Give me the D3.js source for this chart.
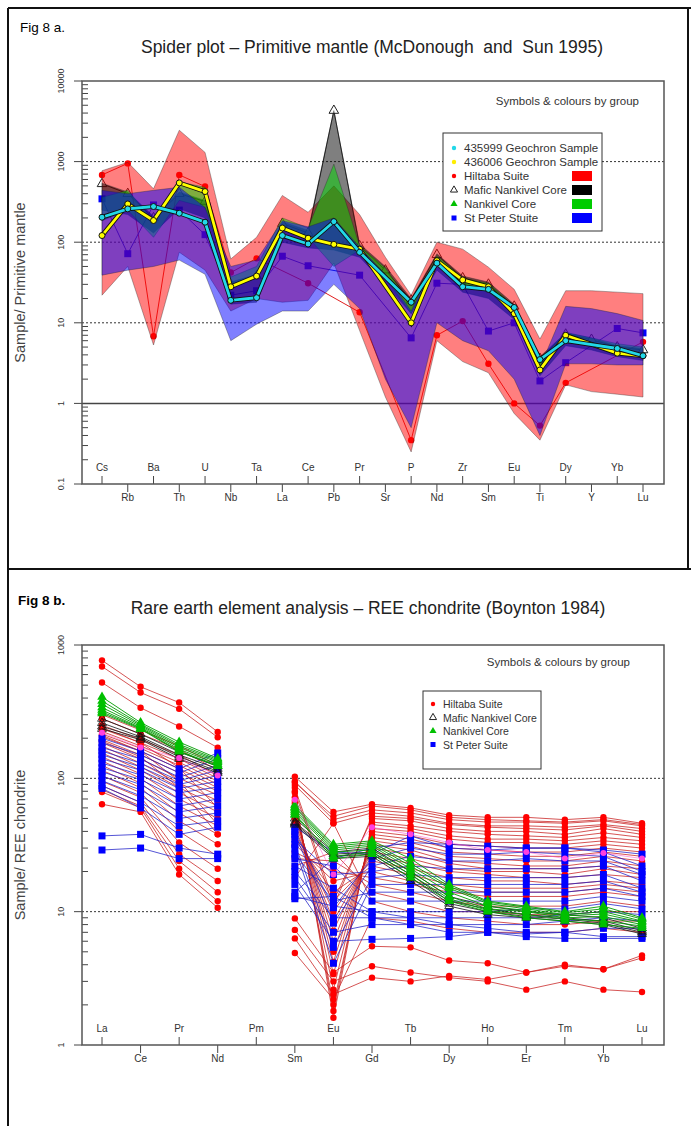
<!DOCTYPE html>
<html lang="en">
<head>
<meta charset="UTF-8">
<title>Fig 8 - spider plots</title>
<script src="https://d3js.org/d3.v7.min.js"></script>
<style>
  body { margin: 0; background: #fff; }
  svg text { font-family: "Liberation Sans", Arial, sans-serif; white-space: pre; }
</style>
</head>
<body>
<svg id="fig" width="691" height="1126"></svg>
<script>
// ---------- Fig 8a : primitive mantle spider plot ----------
const topElements = ["Cs","Rb","Ba","Th","U","Nb","Ta","La","Ce","Pb","Pr","Sr","P","Nd","Zr","Sm","Eu","Ti","Dy","Y","Yb","Lu"];

// group envelopes (min / max)
const hiltabaMax = [770, 980, 460, 2450, 1300, 62, 115, 380, 235, 500, 220, 65, 22, 100, 82, 49, 26, 6.3, 25, 25, 24, 23];
const hiltabaMin = [22, 50, 5.3, 75, 45, 14, 20, 18, 19, 55, 8, 1.2, 0.25, 6, 3.3, 2.4, 0.75, 0.35, 1.7, 1.4, 1.3, 1.2];
const maficMax = [540, 420, 210, 420, 330, 32, 40, 180, 140, 4300, 95, 50, 20, 72, 38, 32, 17, 3.8, 7.5, 6.5, 5.2, 4.8];
const maficMin = [250, 220, 130, 260, 200, 17, 18, 100, 85, 80, 65, 30, 13, 45, 24, 20, 11, 2.2, 5.2, 4.6, 3.8, 3.4];
const nankivelMax = [360, 440, 185, 560, 480, 37, 50, 200, 150, 930, 90, 48, 17, 68, 36, 31, 16, 3.5, 7.6, 6.5, 5.5, 5];
const nankivelMin = [185, 250, 115, 330, 270, 28, 37, 140, 115, 50, 80, 36, 13, 56, 28, 24, 13, 2.6, 6.5, 5.5, 4.3, 3.8];
const stPeterMax = [440, 400, 440, 480, 270, 50, 60, 185, 155, 200, 87, 40, 14, 65, 28, 28, 14, 2.8, 16, 15, 13, 10.7];
const stPeterMin = [39, 45, 50, 60, 40, 6, 9.6, 14, 14, 30, 15, 2, 0.5, 10, 6, 4.5, 2, 0.4, 3.1, 3.1, 3.0, 3.0];

// single samples
const hiltabaSample = [684, 950, 6.8, 684, 490, 42, 63, null, 31, null, 13.5, null, 0.35, 7, 10.5, 3.1, 1.0, 0.53, 1.8, null, null, 5.8];
const stPeterSample = [345, 72, 290, 250, 124, 22, 25, 67, 51, null, 39, null, 6.5, 31, 30, 7.9, 10, 1.9, 3.2, null, 8.5, 7.5];
const maficSample = [530, 400, 200, 400, 320, 30, 38, 170, 130, 4300, 90, 45, 19, 70, 36, 30, 16, 3.6, 7.2, 6.2, 5, 4.6];
const geo435999 = [204, 259, 277, 229, 177, 19, 20.5, 121, 95, 180, 75, null, 18, 55, 28, 26, 15.5, 3.5, 6, null, 4.8, 3.9];
const geo436006 = [121, 298, 186, 544, 425, 28, 38, 150, 112, 94, 82, null, 10, 59, 34, 28, 13, 2.6, 7, null, 4.2, 3.9];

// ---------- Fig 8b : REE chondrite ----------
const reeElements = ["La","Ce","Pr","Nd","Pm","Sm","Eu","Gd","Tb","Dy","Ho","Er","Tm","Yb","Lu"];

const hiltabaREE = [
  [767, 486, 370, 223, null, 103, 56, 64, 60, 53, 51, 51, 49, 51, 46],
  [690, 440, 332, 203, null, 95, 49, 58, 55, 49, 47, 47, 46, 48, 44],
  [523, 338, 245, 170, null, 89, 46, 55, 52, 46, 44, 44, 43, 45, 42],
  [300, 230, 175, 125, null, 85, 12, 50, 48, 42, 40, 40, 38, 42, 38],
  [280, 215, 165, 115, null, 78, 1.6, 47, 44, 40, 38, 37, 36, 39, 36],
  [250, 195, 150, 105, null, 72, 1.8, 45, 42, 37, 35, 35, 34, 36, 34],
  [235, 185, 140, 100, null, 68, 2.0, 42, 40, 35, 33, 33, 32, 34, 32],
  [225, 175, 132, 95, null, 65, 2.6, 40, 37, 32, 31, 30, 30, 32, 30],
  [215, 168, 125, 90, null, 62, 3.4, 38, 35, 30, 29, 28, 28, 30, 28],
  [205, 160, 118, 85, null, 60, 4.2, 36, 33, 28, 27, 26, 26, 28, 26],
  [195, 150, 110, 80, null, 57, 5.0, 34, 31, 26, 25, 24, 24, 26, 24],
  [185, 140, 100, 75, null, 54, 6.0, 32, 29, 24, 23, 22, 22, 24, 22],
  [175, 130, 92, 68, null, 50, 7.2, 30, 27, 23, 21, 21, 21, 22, 21],
  [165, 122, 85, 62, null, 46, 8.5, 28, 25, 21, 20, 20, 19, 21, 19],
  [155, 115, 78, 56, null, 42, 10, 26, 23, 20, 19, 18, 18, 19, 18],
  [145, 108, 70, 50, null, 38, 12, 24, 21, 18, 17, 17, 16, 17, 16],
  [135, 100, 62, 44, null, 35, 14, 22, 19, 16, 15, 15, 15, 16, 15],
  [125, 92, 55, 38, null, 32, 17, 20, 17, 15, 14, 14, 14, 15, 14],
  [115, 85, 48, 32, null, 28, 20, 18, 16, 14, 13, 13, 13, 14, 13],
  [105, 78, 40, 26, null, 25, 24, 16, 14, 12, 11, 11, 11, 12, 11],
  [95, 72, 33, 21, null, 22, 28, 14, 12, 10, 10, 9.5, 9.5, 10, 10],
  [88, 66, 27, 17, null, 18, 46, 12, 10, 9, 8.5, 8, 8, 8.5, 8.5],
  [82, 62, 24, 14, null, 8.9, 3.5, 5.5, 5.4, 4.3, 4.1, 3.5, 4.0, 3.7, 4.7],
  [79, 60, 21, 12, null, 7.3, 3.0, 3.9, 3.5, 3.2, 3.0, 2.6, 3.0, 2.6, 2.5],
  [64, 56, 19, 10.7, null, 6.3, 2.4, 3.2, 3.0, 3.3, 3.1, 3.5, 3.9, 3.7, 4.5],
  [240, 185, 120, 60, null, 4.9, 2.2, 9, 8.5, 7.5, 7, 7, 7, 7.5, 7],
  [210, 160, 95, 45, null, 93, 52, 62, 58, 51, 49, 48, 47, 49, 45],
  [190, 145, 85, 38, null, 80, 11, 52, 50, 45, 43, 42, 41, 44, 40]
];
const stPeterREE = [
  [200, 160, 118, 155, null, 43, 28, 27, 37, 30, 29, 30, 30, 28, 22],
  [185, 150, 110, 140, null, 40, 10.7, 25, 30, 27, 27, 28, 27, 26, 20],
  [170, 140, 102, 125, null, 38, 8.2, 22, 26, 24, 24, 25, 24, 24, 19],
  [160, 130, 96, 115, null, 35, 19, 20, 22, 21, 21, 21, 21, 22, 17],
  [150, 122, 90, 105, null, 32, 5.4, 18, 19, 18, 18, 18, 18, 19, 15],
  [140, 115, 84, 95, null, 30, 4.1, 16, 16, 16, 16, 16, 16, 17, 14],
  [130, 106, 78, 86, null, 27, 12, 14, 14, 14, 14, 14, 14, 15, 13],
  [120, 98, 70, 78, null, 25, 22, 12, 12, 12, 12, 12, 12, 13, 12],
  [112, 90, 62, 70, null, 22, 15, 10, 10, 10, 10, 10.5, 10.5, 11.5, 10.5],
  [104, 82, 56, 62, null, 20, 9, 9, 9, 9, 9, 9, 9.5, 10, 9.5],
  [96, 74, 50, 55, null, 18, 7, 8, 8, 8, 8, 8, 8.5, 9, 8.5],
  [88, 66, 44, 48, null, 16, 6, 6.2, 6.3, 6.5, 7, 6.8, 7, 7.5, 7.5],
  [84, 60, 38, 43, null, 14, 25, 30, 33, 32, 31, 30, 30, 29, 27],
  [37, 38, 30, 27, null, 13, 11, 10, 9, 8, 7.5, 7, 7, 6.5, 6.5],
  [29, 30, 25, 25, null, 12.5, 13, 9, 8, 7, 7, 6.5, 6.3, 6.3, 6.3]
];
const maficREE = [
  [280, 215, 158, 123, null, 50, 28, 30, 20, 13, 11, 10, 9.5, 9, 7.5],
  [260, 205, 150, 118, null, 47, 27, 28, 19, 12, 10.5, 9.5, 9, 8.5, 7.2],
  [245, 200, 145, 113, null, 46, 26, 27, 18, 11.5, 10, 9.2, 8.8, 8.2, 7],
  [235, 195, 140, 110, null, 45, 25, 26, 17, 11, 9.5, 9, 8.5, 8, 6.8]
];
const nankivelREE = [
  [407, 262, 187, 141, null, 63, 32, 34, 25, 16, 12, 11, 10, 11, 9],
  [380, 255, 180, 138, null, 61, 31, 33, 23, 15.5, 11.8, 10.8, 9.8, 10.5, 8.8],
  [360, 250, 175, 135, null, 60, 30, 32, 22, 15, 11.5, 10.5, 9.5, 10, 8.5],
  [340, 245, 170, 132, null, 58, 29, 31, 21, 14, 11, 10.2, 9.3, 9.6, 8.3],
  [325, 240, 165, 128, null, 56, 28, 29, 20, 13, 10.5, 10, 9, 9.2, 8],
  [315, 237, 160, 125, null, 54, 26, 28, 19, 12.5, 10.2, 9.5, 8.8, 8.5, 7.8],
  [307, 234, 158, 123, null, 53, 25, 27, 18, 12, 10, 9, 8.5, 8, 7.5]
];
const geochronREE = [220, 170, 142, 105, null, 69, 19, 43, 38, 33, 29, 28, 25, 27.5, 25];

const svg = d3.select("#fig");

// outer frame lines
svg.append("line").attr("x1", 8).attr("y1", 8).attr("x2", 8).attr("y2", 1126).attr("stroke", "#111").attr("stroke-width", 2);
svg.append("line").attr("x1", 8).attr("y1", 8).attr("x2", 691).attr("y2", 8).attr("stroke", "#111").attr("stroke-width", 2);
svg.append("line").attr("x1", 688).attr("y1", 8).attr("x2", 688).attr("y2", 569).attr("stroke", "#111").attr("stroke-width", 2);
svg.append("line").attr("x1", 8).attr("y1", 569).attr("x2", 691).attr("y2", 569).attr("stroke", "#111").attr("stroke-width", 2);

// shared axis drawing
function drawFrame(box, x, y, elements, gridVals, solidVals) {
  const g = svg.append("g");
  const [lo, hi] = y.domain();
  const d0 = Math.round(Math.log10(lo)), d1 = Math.round(Math.log10(hi));

  gridVals.forEach(v => {
    g.append("line").attr("x1", box.left).attr("x2", box.right)
      .attr("y1", y(v)).attr("y2", y(v))
      .attr("stroke", "#333").attr("stroke-width", 1).attr("stroke-dasharray", "2,2");
  });
  solidVals.forEach(v => {
    g.append("line").attr("x1", box.left).attr("x2", box.right)
      .attr("y1", y(v)).attr("y2", y(v))
      .attr("stroke", "#444").attr("stroke-width", 1.5);
  });

  // log ticks: majors outward, minors inward
  for (let d = d0; d <= d1; d++) {
    const v = Math.pow(10, d);
    g.append("line").attr("x1", box.left - 8).attr("x2", box.left)
      .attr("y1", y(v)).attr("y2", y(v)).attr("stroke", "#444");
    g.append("text")
      .attr("transform", `translate(${box.left - 18},${y(v)}) rotate(-90)`)
      .attr("text-anchor", "middle").attr("font-size", 9).attr("fill", "#333")
      .text(v < 1 ? "0.1" : String(v));
    if (d < d1) {
      for (let k = 2; k <= 9; k++) {
        const m = k * v;
        g.append("line").attr("x1", box.left).attr("x2", box.left + 6)
          .attr("y1", y(m)).attr("y2", y(m)).attr("stroke", "#444");
      }
    }
  }

  // element axis, labels alternate above / below
  elements.forEach((el, i) => {
    const px = x(el);
    const above = i % 2 === 0;
    g.append("line").attr("x1", px).attr("x2", px)
      .attr("y1", above ? box.bottom - 8 : box.bottom)
      .attr("y2", above ? box.bottom : box.bottom + 8)
      .attr("stroke", "#444");
    g.append("text").attr("x", px)
      .attr("y", above ? box.bottom - 13 : box.bottom + 17)
      .attr("text-anchor", "middle").attr("font-size", 10).attr("fill", "#333")
      .text(el);
  });
  return g;
}

function drawBox(box) {
  svg.append("rect").attr("x", box.left).attr("y", box.top)
    .attr("width", box.right - box.left).attr("height", box.bottom - box.top)
    .attr("fill", "none").attr("stroke", "#555").attr("stroke-width", 1.5);
}

// ============ TOP CHART ============
const boxA = {left: 82, right: 664, top: 81, bottom: 484};
const xA = d3.scalePoint().domain(topElements).range([102, 643]);
const yA = d3.scaleLog().domain([0.1, 10000]).range([boxA.bottom, boxA.top]);

svg.append("text").attr("x", 20).attr("y", 32).attr("font-size", 13.5).text("Fig 8 a.");
svg.append("text").attr("x", 372).attr("y", 53).attr("text-anchor", "middle")
  .attr("font-size", 17.5).attr("fill", "#222")
  .text("Spider plot \u2013 Primitive mantle (McDonough  and  Sun 1995)");
svg.append("text").attr("transform", `translate(25,${(boxA.top + boxA.bottom) / 2}) rotate(-90)`)
  .attr("text-anchor", "middle").attr("font-size", 14.5).attr("fill", "#444")
  .text("Sample/ Primitive mantle");

drawFrame(boxA, xA, yA, topElements, [10, 100, 1000], [1]);

const linePts = (vals, x, y, els) => els.map((e, i) => [x(e), vals[i] == null ? null : y(vals[i])]).filter(p => p[1] != null);
const lineGen = d3.line();

// individual samples under the envelopes
function sampleA(vals, stroke, drawMarker) {
  const pts = linePts(vals, xA, yA, topElements);
  svg.append("path").attr("d", lineGen(pts)).attr("fill", "none")
    .attr("stroke", stroke).attr("stroke-width", 1);
  pts.forEach(p => drawMarker(p));
}
sampleA(hiltabaSample, "#e02020", p =>
  svg.append("circle").attr("cx", p[0]).attr("cy", p[1]).attr("r", 3.2).attr("fill", "#ff0000"));
sampleA(stPeterSample, "#2020d0", p =>
  svg.append("rect").attr("x", p[0] - 3.5).attr("y", p[1] - 3.5).attr("width", 7).attr("height", 7).attr("fill", "#0000ff"));
sampleA(maficSample, "#333", p =>
  svg.append("path").attr("d", d3.symbol(d3.symbolTriangle, 40)()).attr("transform", `translate(${p[0]},${p[1]})`)
    .attr("fill", "#fff").attr("stroke", "#222"));

// envelopes
const envelopes = [
  {min: hiltabaMin, max: hiltabaMax, fill: "rgba(255,0,0,0.5)"},
  {min: maficMin, max: maficMax, fill: "rgba(0,0,0,0.5)"},
  {min: nankivelMin, max: nankivelMax, fill: "rgba(0,220,0,0.5)"},
  {min: stPeterMin, max: stPeterMax, fill: "rgba(0,0,255,0.5)"}
];
const area = d3.area().x(d => xA(d.el)).y0(d => yA(d.lo)).y1(d => yA(d.hi));
envelopes.forEach(env => {
  const rows = topElements.map((el, i) => ({el, lo: env.min[i], hi: env.max[i]}));
  svg.append("path").attr("d", area(rows)).attr("fill", env.fill)
    .attr("stroke", "rgba(40,40,40,0.45)").attr("stroke-width", 0.8);
});

// geochron samples on top
[[geo436006, "#ffff00"], [geo435999, "#22d8e8"]].forEach(([vals, col]) => {
  const pts = linePts(vals, xA, yA, topElements);
  svg.append("path").attr("d", lineGen(pts)).attr("fill", "none").attr("stroke", "#111").attr("stroke-width", 4.5);
  svg.append("path").attr("d", lineGen(pts)).attr("fill", "none").attr("stroke", col).attr("stroke-width", 2.8);
  pts.forEach(p => svg.append("circle").attr("cx", p[0]).attr("cy", p[1]).attr("r", 3)
    .attr("fill", col).attr("stroke", "#111").attr("stroke-width", 1));
});

drawBox(boxA);

svg.append("text").attr("x", 639).attr("y", 105).attr("text-anchor", "end")
  .attr("font-size", 11.5).attr("fill", "#333").text("Symbols & colours by group");

// legend A
const legA = svg.append("g");
legA.append("rect").attr("x", 443).attr("y", 133).attr("width", 159).attr("height", 98)
  .attr("fill", "#fff").attr("stroke", "#333").attr("stroke-width", 1);
const legAItems = [
  {label: "435999 Geochron Sample", sym: "dot", col: "#22d8e8"},
  {label: "436006 Geochron Sample", sym: "dot", col: "#ffee00"},
  {label: "Hiltaba Suite", sym: "dot", col: "#ff0000", sw: "#ff0000"},
  {label: "Mafic Nankivel Core", sym: "open", col: "#222", sw: "#000"},
  {label: "Nankivel Core", sym: "tri", col: "#00c000", sw: "#00cc00"},
  {label: "St Peter Stuite", sym: "sq", col: "#0000ff", sw: "#0000ff"}
];
function legendSymbol(g, sym, col, x, y, s) {
  if (sym === "dot") g.append("circle").attr("cx", x).attr("cy", y).attr("r", 2.2 * s).attr("fill", col);
  if (sym === "sq") g.append("rect").attr("x", x - 2.5 * s).attr("y", y - 2.5 * s).attr("width", 5 * s).attr("height", 5 * s).attr("fill", col);
  if (sym === "tri" || sym === "open") g.append("path").attr("d", d3.symbol(d3.symbolTriangle, 22 * s * s)())
    .attr("transform", `translate(${x},${y})`)
    .attr("fill", sym === "tri" ? col : "none").attr("stroke", sym === "tri" ? "none" : col).attr("stroke-width", 1);
}
legAItems.forEach((it, i) => {
  const yy = 148 + i * 14;
  legendSymbol(legA, it.sym, it.col, 454, yy, 1);
  legA.append("text").attr("x", 464).attr("y", yy + 4).attr("font-size", 11.5).attr("fill", "#333").text(it.label);
  if (it.sw) legA.append("rect").attr("x", 572).attr("y", yy - 5).attr("width", 20).attr("height", 10).attr("fill", it.sw);
});

// ============ BOTTOM CHART ============
const boxB = {left: 82, right: 664, top: 645, bottom: 1045};
const xB = d3.scalePoint().domain(reeElements).range([102, 642]);
const yB = d3.scaleLog().domain([1, 1000]).range([boxB.bottom, boxB.top]);

svg.append("text").attr("x", 18).attr("y", 605).attr("font-size", 13.5).attr("font-weight", "bold").text("Fig 8 b.");
svg.append("text").attr("x", 368).attr("y", 614).attr("text-anchor", "middle")
  .attr("font-size", 17.5).attr("fill", "#222")
  .text("Rare earth element analysis \u2013 REE chondrite (Boynton 1984)");
svg.append("text").attr("transform", `translate(25,${(boxB.top + boxB.bottom) / 2}) rotate(-90)`)
  .attr("text-anchor", "middle").attr("font-size", 14.5).attr("fill", "#444")
  .text("Sample/ REE chondrite");

drawFrame(boxB, xB, yB, reeElements, [10, 100], []);

const reeLine = d3.line().defined(d => d[1] != null)
  .x(d => xB(d[0])).y(d => yB(d[1]));

function drawGroup(series, stroke, width, marker) {
  const g = svg.append("g");
  series.forEach(vals => {
    const rows = reeElements.map((e, i) => [e, vals[i]]);
    g.append("path").attr("d", reeLine(rows)).attr("fill", "none")
      .attr("stroke", stroke).attr("stroke-width", width);
  });
  series.forEach(vals => {
    reeElements.forEach((e, i) => {
      if (vals[i] != null) marker(g, xB(e), yB(vals[i]));
    });
  });
}
drawGroup(hiltabaREE, "rgba(200,30,30,0.85)", 0.9, (g, px, py) =>
  g.append("circle").attr("cx", px).attr("cy", py).attr("r", 3.2).attr("fill", "#ff0000"));
drawGroup(stPeterREE, "rgba(30,30,200,0.85)", 0.9, (g, px, py) =>
  g.append("rect").attr("x", px - 3.5).attr("y", py - 3.5).attr("width", 7).attr("height", 7).attr("fill", "#0000ff"));
drawGroup(maficREE, "#111", 0.8, (g, px, py) =>
  g.append("path").attr("d", d3.symbol(d3.symbolTriangle, 34)()).attr("transform", `translate(${px},${py})`)
    .attr("fill", "none").attr("stroke", "#111").attr("stroke-width", 0.8));
drawGroup(nankivelREE, "#009a00", 0.9, (g, px, py) =>
  g.append("path").attr("d", d3.symbol(d3.symbolTriangle, 40)()).attr("transform", `translate(${px},${py})`)
    .attr("fill", "#00c000"));
drawGroup([geochronREE], "rgba(255,60,200,0.6)", 0.8, (g, px, py) =>
  g.append("circle").attr("cx", px).attr("cy", py).attr("r", 3).attr("fill", "#ff40e0"));

drawBox(boxB);

svg.append("text").attr("x", 630).attr("y", 666).attr("text-anchor", "end")
  .attr("font-size", 11.5).attr("fill", "#333").text("Symbols & colours by group");

const legB = svg.append("g");
legB.append("rect").attr("x", 423).attr("y", 691).attr("width", 118).attr("height", 78)
  .attr("fill", "#fff").attr("stroke", "#333").attr("stroke-width", 1);
const legBItems = [
  {label: "Hiltaba Suite", sym: "dot", col: "#ff0000"},
  {label: "Mafic Nankivel Core", sym: "open", col: "#222"},
  {label: "Nankivel Core", sym: "tri", col: "#00c000"},
  {label: "St Peter Suite", sym: "sq", col: "#0000ff"}
];
legBItems.forEach((it, i) => {
  const yy = 704 + i * 13.5;
  legendSymbol(legB, it.sym, it.col, 433, yy, 1);
  legB.append("text").attr("x", 443).attr("y", yy + 4).attr("font-size", 10.5).attr("fill", "#333").text(it.label);
});
</script>
</body>
</html>
